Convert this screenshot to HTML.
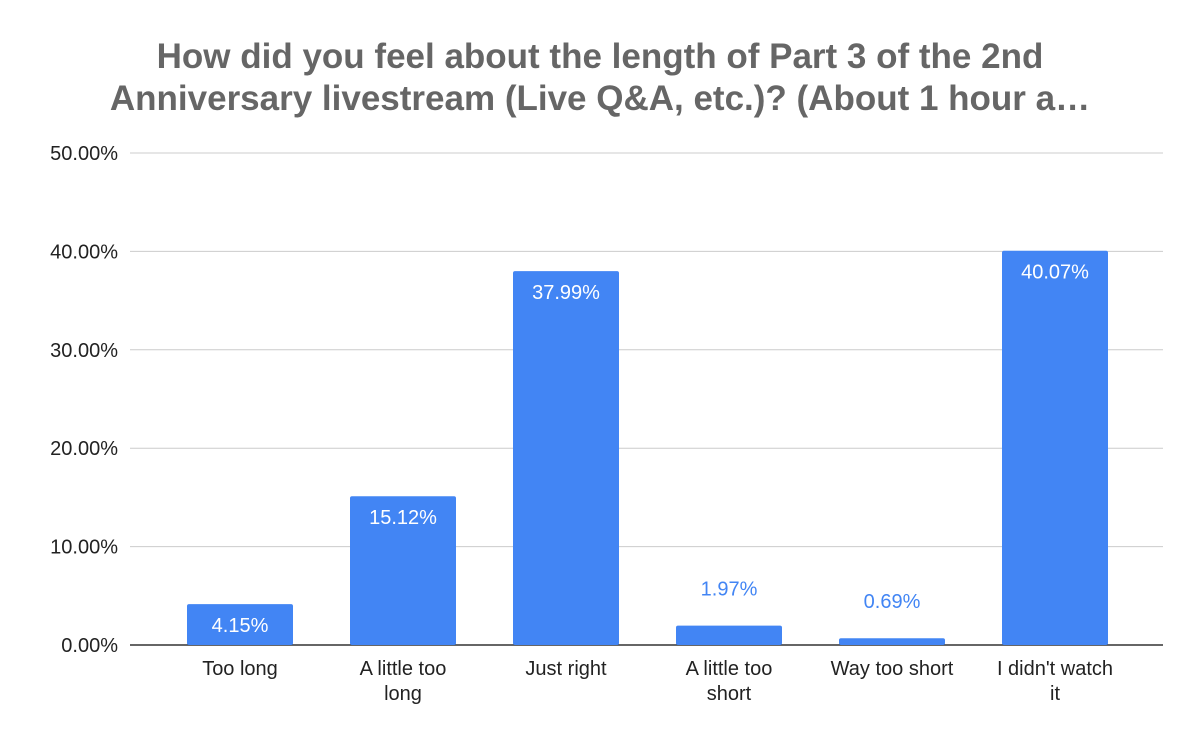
<!DOCTYPE html>
<html><head><meta charset="utf-8">
<style>
body{margin:0;background:#fff;}
svg text{font-family:"Liberation Sans",Arial,sans-serif;}
</style></head>
<body>
<svg id="chart" width="1200" height="742" viewBox="0 0 1200 742" xmlns="http://www.w3.org/2000/svg">
<rect width="1200" height="742" fill="#fff"/>
<g>
<text x="600" y="68" text-anchor="middle" font-size="35" font-weight="bold" fill="#666">How did you feel about the length of Part 3 of the 2nd</text>
<text x="600" y="110" text-anchor="middle" font-size="35" font-weight="bold" fill="#666">Anniversary livestream (Live Q&amp;A, etc.)? (About 1 hour a…</text>
</g>
<g id="grid"></g>
<g id="yticks"></g>
<g id="bars"></g>
<g id="xlabels"></g>
</svg>
<script>
const categories=[["Too long"],["A little too","long"],["Just right"],["A little too","short"],["Way too short"],["I didn't watch","it"]];
const values=[4.15,15.12,37.99,1.97,0.69,40.07];
const yTicks=[0,10,20,30,40,50];
const yTickLabels=["0.00%","10.00%","20.00%","30.00%","40.00%","50.00%"];
const NS="http://www.w3.org/2000/svg";
const y0=645,yTop=153,yMax=50;
const y=v=>y0-(v/yMax)*(y0-yTop);
const bandL=158.5,step=163,barW=106;
const xc=i=>bandL+step*(i+0.5);
function mk(t,a,p){const e=document.createElementNS(NS,t);for(const k in a)e.setAttribute(k,a[k]);p.appendChild(e);return e;}
const grid=document.getElementById('grid'),yt=document.getElementById('yticks'),bars=document.getElementById('bars'),xl=document.getElementById('xlabels');
yTicks.forEach((v,i)=>{
 const l=mk('line',{x1:130,x2:1163,y1:y(v),y2:y(v),stroke:v===0?'#333':'#ccc','stroke-width':v===0?1.5:1},grid);
 
 
 const t=mk('text',{x:118,y:y(v)+7,'text-anchor':'end','font-size':20,fill:'#222'},yt);
 t.textContent=yTickLabels[i];
 
 
});
values.forEach((v,i)=>{
 const top=y(v);
 const r=mk('rect',{x:xc(i)-barW/2,y:top,width:barW,height:y0-top,fill:'#4285f4',rx:2},bars);
 
 
 const inside=(y0-top)>35;
 const t=mk('text',{x:xc(i),y:inside?top+28:top-30,'text-anchor':'middle','font-size':20,fill:inside?'#fff':'#4285f4'},bars);
 t.textContent=v.toFixed(2)+'%';
 
 
 categories[i].forEach((s,j)=>{
  const c=mk('text',{x:xc(i),y:675+j*25,'text-anchor':'middle','font-size':20,fill:'#222'},xl);
  c.textContent=s;
  
  
 });
});
</script>
</body></html>
